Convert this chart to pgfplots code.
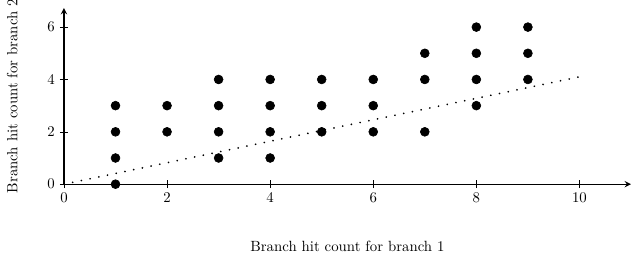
\documentclass[border=0pt]{standalone}
\usepackage{pgfplots}
\pgfplotsset{compat=1.18}
\begin{document}
\begin{tikzpicture}
\begin{axis}[
  scale only axis,
  width=383pt, height=119pt,
  xmin=0, xmax=11, ymin=0, ymax=6.73,
  axis lines=left,
  axis line style={line width=0.9pt, -stealth},
  xtick={0,2,4,6,8,10}, ytick={0,2,4,6},
  tick style={black, line width=0.4pt},
  tick align=center,
  major tick length=5.4pt,
  xlabel={Branch hit count for branch 1},
  ylabel={Branch hit count for branch 2},
  xlabel style={at={(axis description cs:0.5,-0.353)}, anchor=center},
  ylabel style={at={(axis description cs:-0.0914,0.5)}, anchor=center, rotate=0},
  clip=false,
]
\addplot[only marks, mark=*, mark size=3pt, black] coordinates {
(1,0)(1,1)(1,2)(1,3)
(2,2)(2,3)
(3,1)(3,2)(3,3)(3,4)
(4,1)(4,2)(4,3)(4,4)
(5,2)(5,3)(5,4)
(6,2)(6,3)(6,4)
(7,2)(7,4)(7,5)
(8,3)(8,4)(8,5)(8,6)
(9,4)(9,5)(9,6)
};
\addplot[black, line width=1.3pt, dash pattern=on 0.01pt off 6pt, line cap=round] coordinates {(0,0)(10,4.1)};
\coordinate (O) at (rel axis cs:0,0);
\coordinate (T) at (rel axis cs:1,1);
\end{axis}
\pgfresetboundingbox
\path[use as bounding box] ([xshift=-43.2pt,yshift=-52.7pt]O) rectangle ([yshift=5.4pt]T);
\end{tikzpicture}
\end{document}
